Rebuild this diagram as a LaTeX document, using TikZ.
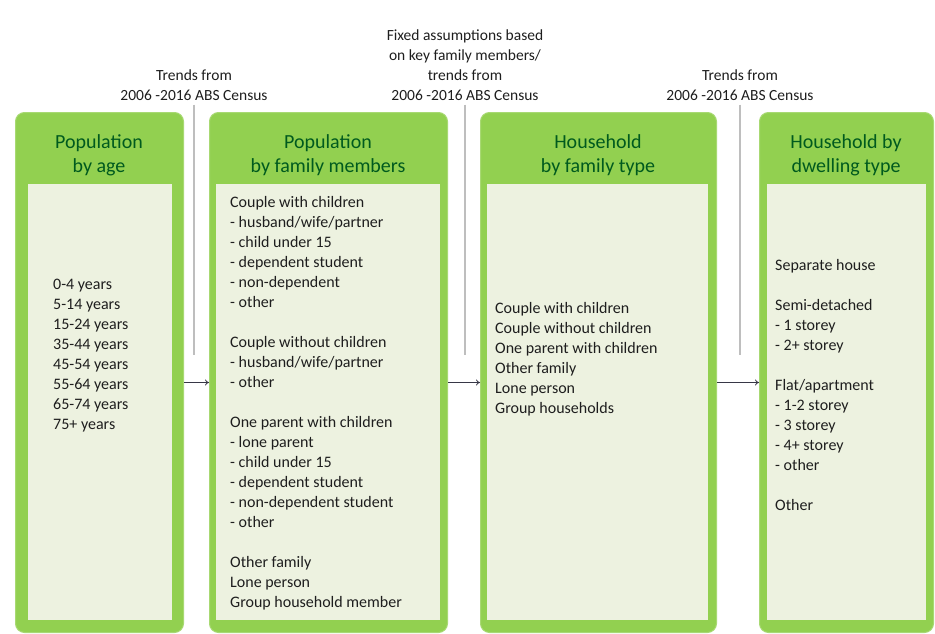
\documentclass[tikz,border=0pt]{standalone}
\usepackage{fontspec}
\setmainfont{Carlito}
\usepackage{xcolor}
\usetikzlibrary{positioning,arrows.meta}

\definecolor{boxgreen}{RGB}{146,208,80}
\definecolor{panelgreen}{RGB}{237,242,224}
\definecolor{titlegreen}{RGB}{0,90,30}
\definecolor{listgray}{RGB}{30,30,30}
\definecolor{feedgray}{RGB}{190,190,190}
\definecolor{arrowgray}{RGB}{55,55,70}

\begin{document}
\begin{tikzpicture}[x=1pt,y=-1pt,>={To[length=4pt,width=6pt]}]
  \tikzstyle{stage}=[draw=boxgreen!80!white,line width=1pt,fill=boxgreen,rounded corners=9pt,
                     minimum height=520pt,anchor=north west,inner sep=0pt]
  \tikzstyle{panel}=[fill=panelgreen,minimum height=436pt,anchor=north west,inner sep=0pt]
  \tikzstyle{heading}=[text=titlegreen,align=center,font=\fontsize{20}{24}\selectfont]
  \tikzstyle{items}=[text=listgray,align=left,anchor=west,inner sep=0pt,font=\fontsize{16}{20}\selectfont]
  \tikzstyle{source}=[text=listgray,align=center,inner sep=0pt,font=\fontsize{15.5}{20}\selectfont]
  \tikzstyle{feed}=[draw=feedgray,line width=1.2pt]
  \tikzstyle{flow}=[draw=arrowgray,line width=0.8pt,->]

  \useasboundingbox[fill=white] (0,0) rectangle (935,634);

  % stages
  \node[stage,minimum width=168pt] (age)      at (15,112)  {};
  \node[stage,minimum width=238pt] (member)   at (209,112) {};
  \node[stage,minimum width=236pt] (family)   at (480,112) {};
  \node[stage,minimum width=174pt] (dwelling) at (759,112) {};

  \node[panel,minimum width=144pt] (age_p)      at (28,184)  {};
  \node[panel,minimum width=224pt] (member_p)   at (216,184) {};
  \node[panel,minimum width=221pt] (family_p)   at (487,184) {};
  \node[panel,minimum width=159pt] (dwelling_p) at (767,184) {};

  \node[heading] (age_h)      at (99,155)  {Population\\by age};
  \node[heading] (member_h)   at (328,155) {Population\\by family members};
  \node[heading] (family_h)   at (598,155) {Household\\by family type};
  \node[heading] (dwelling_h) at (846,155) {Household by\\dwelling type};

  % contents
  \node[items] (age_l) at (53,356) {0-4 years\\5-14 years\\15-24 years\\35-44 years\\45-54 years\\55-64 years\\65-74 years\\75+ years};
  \node[items] (member_l) at (230,403.5) {Couple with children\\- husband/wife/partner\\- child under 15\\- dependent student\\- non-dependent\\- other\\[20pt]
    Couple without children\\- husband/wife/partner\\- other\\[20pt]
    One parent with children\\- lone parent\\- child under 15\\- dependent student\\- non-dependent student\\- other\\[20pt]
    Other family\\Lone person\\Group household member};
  \node[items] (family_l) at (495,359.5) {Couple with children\\Couple without children\\One parent with children\\Other family\\Lone person\\Group households};
  \node[items] (dwelling_l) at (775,385) {Separate house\\[20pt]
    Semi-detached\\- 1 storey\\- 2+ storey\\[20pt]
    Flat/apartment\\- 1-2 storey\\- 3 storey\\- 4+ storey\\- other\\[20pt]
    Other};

  % sources
  \node[source] (src1) at (194,85) {Trends from\\2006 -2016 ABS Census};
  \node[source] (src2) at (465,65) {Fixed assumptions based\\on key family members/\\trends from\\2006 -2016 ABS Census};
  \node[source] (src3) at (740,85) {Trends from\\2006 -2016 ABS Census};

  \coordinate (src1_e) at (194,355);
  \coordinate (src2_e) at (465,355);
  \coordinate (src3_e) at (740,355);

  \draw[feed] ([yshift=-4pt]src1.south) -- (src1_e);
  \draw[feed] ([yshift=-4pt]src2.south) -- (src2_e);
  \draw[feed] ([yshift=-4pt]src3.south) -- (src3_e);

  \draw[flow] ([yshift=-10pt]age.east)    -- ([yshift=-10pt]member.west);
  \draw[flow] ([yshift=-10pt]member.east) -- ([yshift=-10pt]family.west);
  \draw[flow] ([yshift=-10pt]family.east) -- ([yshift=-10pt]dwelling.west);
\end{tikzpicture}
\end{document}
